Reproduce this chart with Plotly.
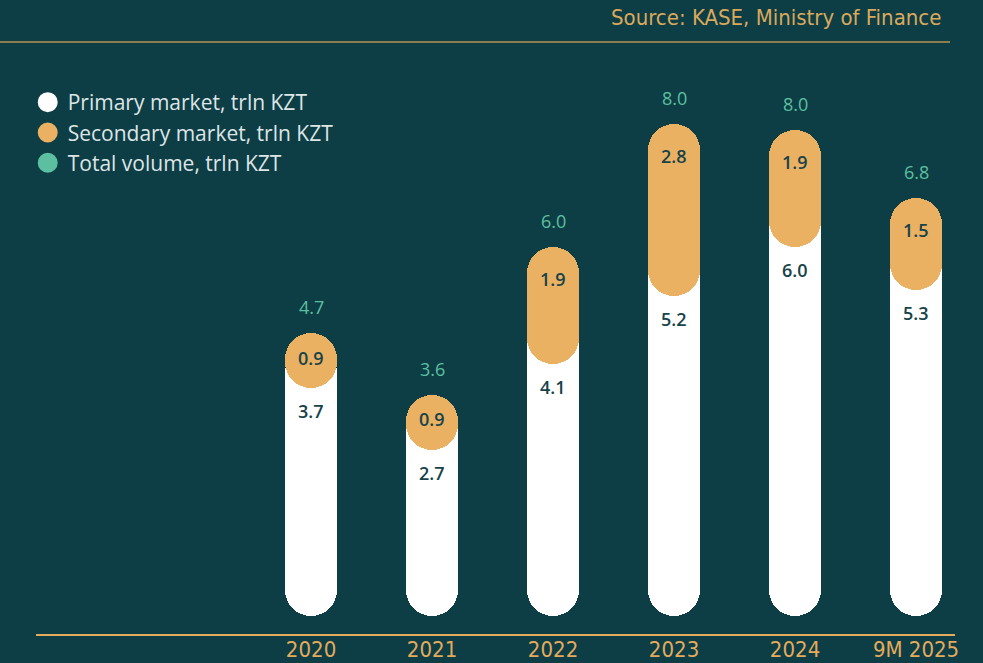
import plotly.graph_objects as go

categories = ["2020", "2021", "2022", "2023", "2024", "9M 2025"]
primary = [3.7, 2.7, 4.1, 5.2, 6.0, 5.3]
secondary = [0.9, 0.9, 1.9, 2.8, 1.9, 1.5]
total = [4.7, 3.6, 6.0, 8.0, 8.0, 6.8]

BG = "#0d3d45"
WHITE = "#ffffff"
ORANGE = "#ebb163"
TEAL = "#5cc0a0"
DARK = "#17434a"
GOLD = "#e3ab5c"
FONT = "Open Sans"
NARROW = "DejaVu Sans Condensed"

top = [p + s for p, s in zip(primary, secondary)]
white_top = [p + 0.75 * s for p, s in zip(primary, secondary)]

W = 0.43
fig = go.Figure()
# white pill (bar with a base is rounded at both ends)
fig.add_trace(go.Bar(x=categories, y=white_top, base=[0] * len(categories), width=W,
                     marker=dict(color=WHITE, cornerradius="50%", line=dict(width=0)),
                     showlegend=False, hoverinfo="skip"))
# orange pill on top
fig.add_trace(go.Bar(x=categories, y=secondary, base=primary, width=W,
                     marker=dict(color=ORANGE, cornerradius="50%", line=dict(width=0)),
                     showlegend=False, hoverinfo="skip"))

# legend entries
for name, col in [("Primary market, trln KZT", WHITE),
                  ("Secondary market, trln KZT", ORANGE),
                  ("Total volume, trln KZT", TEAL)]:
    fig.add_trace(go.Scatter(x=[None], y=[None], mode="markers", name=name,
                             marker=dict(symbol="circle", size=16, color=col,
                                         line=dict(color=col, width=4))))

annotations = []
for i, (p, s, t, tp) in enumerate(zip(primary, secondary, total, top)):
    annotations.append(dict(x=i, y=tp, text=f"{t:.1f}", showarrow=False, yshift=26,
                            font=dict(family=FONT, size=18, color=TEAL)))
    annotations.append(dict(x=i, y=tp - min(0.57, s / 2), text=f"{s:.1f}", showarrow=False,
                            yshift=3, font=dict(family=FONT, size=18, color=DARK, weight=600)))
    annotations.append(dict(x=i, y=p, text=f"{p:.1f}", showarrow=False, yshift=-23,
                            font=dict(family=FONT, size=18, color=DARK, weight=600)))

annotations.append(dict(xref="paper", yref="paper", x=(943 - 36) / 919, y=(634 - 17) / 574,
                        xanchor="right", yanchor="middle", showarrow=False,
                        text="Source: KASE, Ministry of Finance",
                        font=dict(family=NARROW, size=22, color="#d9a95c")))

fig.update_layout(
    width=983, height=663,
    margin=dict(l=36, r=28, t=60, b=29, autoexpand=False),
    paper_bgcolor=BG, plot_bgcolor=BG,
    barmode="overlay",
    bargap=0,
    showlegend=True,
    legend=dict(x=-0.009, y=(634 - 82) / 574, xanchor="left", yanchor="top",
                bgcolor="rgba(0,0,0,0)", font=dict(family=FONT, size=21, color="#dde5e5"),
                itemsizing="trace", tracegroupgap=0),
    annotations=annotations,
    shapes=[dict(type="line", xref="paper", yref="paper",
                 x0=-36 / 919, x1=(950 - 36) / 919, y0=(634 - 42) / 574, y1=(634 - 42) / 574,
                 line=dict(color="#8c7d4e", width=2))],
    xaxis=dict(type="category", range=[-2.273, 5.322], showgrid=False, zeroline=False,
               showline=True, linecolor=GOLD, linewidth=2, ticks="", automargin=False,
               ticklabelstandoff=-5,
               tickfont=dict(family=NARROW, size=22, color=GOLD)),
    yaxis=dict(range=[-0.293, 9.04], visible=False, showgrid=False, zeroline=False,
               automargin=False),
    font=dict(family=FONT),
)

fig.write_html("out.html", config={"displayModeBar": False},
               post_script="document.body.style.margin='0';")
